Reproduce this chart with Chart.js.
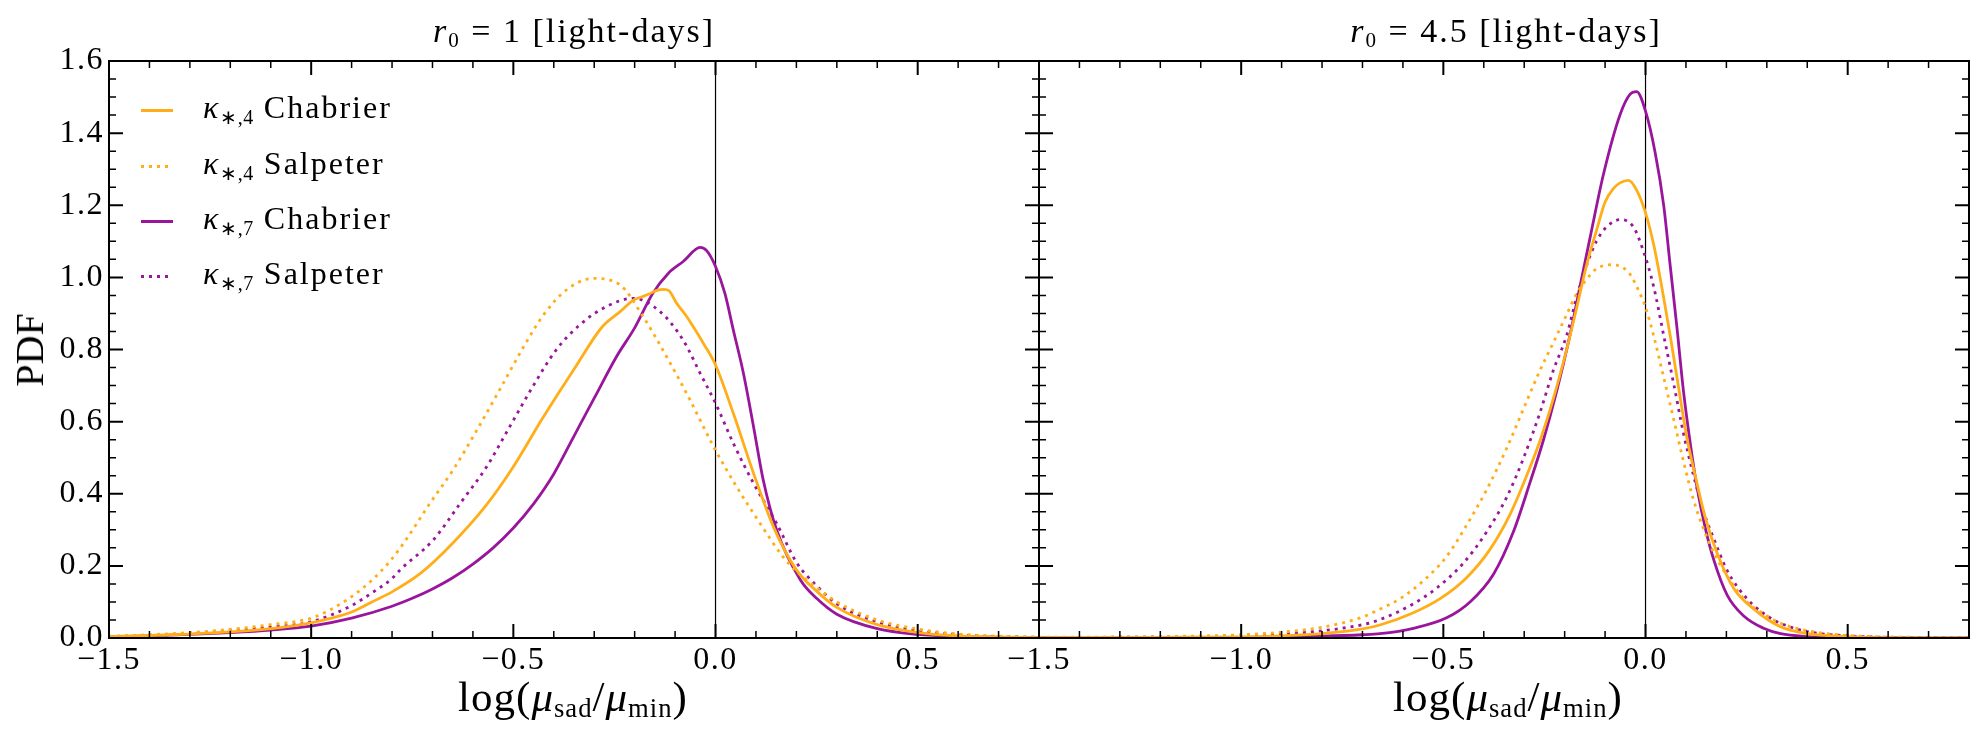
<!DOCTYPE html>
<html>
<head>
<meta charset="utf-8">
<script src="https://cdn.jsdelivr.net/npm/chart.js@4.4.1/dist/chart.umd.min.js"></script>
<style>
  body { margin: 0; background: #fff; }
  #wrap { position: relative; width: 1985px; height: 741px; overflow: hidden;
          font-family: 'Liberation Serif', serif; color: #000; }
  canvas { position: absolute; top: 0; }
  .txt { position: absolute; white-space: nowrap; line-height: 1; }
  .title { font-size: 34px; letter-spacing: 2px; top: 14px; transform: translateX(-50%); }
  .xlab { font-size: 43px; letter-spacing: 1px; top: 675px; transform: translateX(-50%); }
  .txt sub { font-size: 0.62em; vertical-align: -0.22em; line-height: 0; }
  .ylab { font-size: 40px; left: 30px; top: 350px; transform: translate(-50%, -50%) rotate(-90deg); }
  .leg { position: absolute; left: 141px; height: 30px; width: 320px; }
  .leg .sample { position: absolute; left: 0; top: 16px; width: 32px; height: 3px; }
  .leg .lab { position: absolute; left: 62px; top: -2px; font-size: 32px; line-height: 32px; white-space: nowrap; letter-spacing: 2px; }
  .leg .lab sub { font-size: 20px; vertical-align: -6px; line-height: 0; letter-spacing: 0.5px; }
</style>
</head>
<body>
<div id="wrap">
  <canvas id="leftChart" width="1060" height="741" style="left:0"></canvas>
  <canvas id="rightChart" width="985" height="741" style="left:1000px"></canvas>

  <div class="txt title" style="left:574px"><i>r</i><sub>0</sub> = 1 [light-days]</div>
  <div class="txt title" style="left:1506px"><i>r</i><sub>0</sub> = 4.5 [light-days]</div>
  <div class="txt xlab" style="left:573px">log(<i>μ</i><sub>sad</sub>/<i>μ</i><sub>min</sub>)</div>
  <div class="txt xlab" style="left:1508px">log(<i>μ</i><sub>sad</sub>/<i>μ</i><sub>min</sub>)</div>
  <div class="txt ylab">PDF</div>

  <div class="leg" style="top:93px"><div class="sample" id="s0"></div><div class="lab"><i>κ</i><sub>∗,4</sub> Chabrier</div></div>
  <div class="leg" style="top:149px"><div class="sample" id="s1"></div><div class="lab"><i>κ</i><sub>∗,4</sub> Salpeter</div></div>
  <div class="leg" style="top:204px"><div class="sample" id="s2"></div><div class="lab"><i>κ</i><sub>∗,7</sub> Chabrier</div></div>
  <div class="leg" style="top:259px"><div class="sample" id="s3"></div><div class="lab"><i>κ</i><sub>∗,7</sub> Salpeter</div></div>
</div>

<script>
// axis ticks
const xTicks = [-1.5, -1.0, -0.5, 0.0, 0.5];
const yTicks = [0, 0.2, 0.4, 0.6, 0.8, 1.0, 1.2, 1.4, 1.6];

const orange = '#FFAE19';
const purple = '#99169C';

// r0 = 1 light-days
const leftK4ChabX = [-1.5, -1.4, -1.3, -1.2, -1.1, -1.0, -0.95, -0.9, -0.85, -0.8, -0.73, -0.65, -0.57, -0.5, -0.43, -0.35, -0.28, -0.236, -0.203, -0.185, -0.166, -0.145, -0.128, -0.115, -0.096, -0.071, -0.055, -0.03, 0.0, 0.044, 0.094, 0.143, 0.2, 0.25, 0.3, 0.4, 0.5, 0.6, 0.7, 0.8];
const leftK4ChabY = [0.004, 0.007, 0.011, 0.017, 0.026, 0.042, 0.055, 0.072, 0.1, 0.128, 0.179, 0.263, 0.364, 0.475, 0.605, 0.745, 0.863, 0.905, 0.937, 0.945, 0.953, 0.964, 0.967, 0.963, 0.928, 0.891, 0.863, 0.817, 0.757, 0.623, 0.457, 0.309, 0.189, 0.13, 0.085, 0.037, 0.015, 0.006, 0.003, 0.001];

const leftK4SalpX = [-1.5, -1.4, -1.3, -1.2, -1.1, -1.0, -0.95, -0.9, -0.85, -0.8, -0.764, -0.706, -0.649, -0.591, -0.533, -0.476, -0.426, -0.369, -0.303, -0.236, -0.179, -0.121, -0.063, -0.005, 0.052, 0.11, 0.167, 0.2, 0.25, 0.3, 0.4, 0.5, 0.6, 0.7, 0.8];
const leftK4SalpY = [0.005, 0.009, 0.015, 0.024, 0.037, 0.055, 0.08, 0.115, 0.16, 0.22, 0.275, 0.374, 0.466, 0.575, 0.69, 0.805, 0.895, 0.965, 0.997, 0.979, 0.891, 0.78, 0.66, 0.531, 0.42, 0.318, 0.225, 0.185, 0.14, 0.1, 0.05, 0.025, 0.011, 0.005, 0.002];

const leftK7ChabX = [-1.5, -1.4, -1.3, -1.2, -1.1, -1.0, -0.9, -0.8, -0.75, -0.7, -0.65, -0.6, -0.55, -0.5, -0.45, -0.4, -0.35, -0.3, -0.245, -0.2, -0.155, -0.117, -0.08, -0.038, -0.022, 0.0, 0.023, 0.044, 0.069, 0.094, 0.118, 0.151, 0.21, 0.25, 0.3, 0.4, 0.5, 0.6, 0.7, 0.8];
const leftK7ChabY = [0.003, 0.006, 0.01, 0.015, 0.022, 0.033, 0.055, 0.088, 0.11, 0.136, 0.167, 0.205, 0.25, 0.305, 0.372, 0.455, 0.56, 0.665, 0.78, 0.86, 0.956, 1.011, 1.044, 1.083, 1.074, 1.03, 0.956, 0.854, 0.734, 0.586, 0.438, 0.3, 0.161, 0.11, 0.066, 0.026, 0.01, 0.004, 0.002, 0.001];

const leftK7SalpX = [-1.5, -1.4, -1.3, -1.2, -1.1, -1.0, -0.9, -0.85, -0.8, -0.78, -0.698, -0.631, -0.566, -0.509, -0.452, -0.394, -0.336, -0.27, -0.203, -0.137, -0.08, -0.038, 0.0, 0.044, 0.094, 0.151, 0.2, 0.25, 0.3, 0.4, 0.5, 0.6, 0.7, 0.8];
const leftK7SalpY = [0.004, 0.007, 0.012, 0.02, 0.03, 0.045, 0.09, 0.125, 0.165, 0.189, 0.272, 0.374, 0.475, 0.586, 0.697, 0.799, 0.868, 0.919, 0.942, 0.905, 0.826, 0.734, 0.651, 0.54, 0.429, 0.318, 0.21, 0.145, 0.095, 0.045, 0.02, 0.009, 0.004, 0.002];

// r0 = 4.5 light-days
const rightK4ChabX = [-1.5, -1.2, -1.0, -0.9, -0.8, -0.7, -0.657, -0.574, -0.508, -0.442, -0.385, -0.335, -0.294, -0.261, -0.228, -0.195, -0.17, -0.146, -0.121, -0.1, -0.079, -0.063, -0.042, -0.022, 0.0, 0.02, 0.04, 0.061, 0.082, 0.102, 0.123, 0.148, 0.177, 0.218, 0.268, 0.334, 0.4, 0.5, 0.6, 0.8];
const rightK4ChabY = [0.001, 0.002, 0.003, 0.006, 0.012, 0.025, 0.036, 0.07, 0.109, 0.168, 0.245, 0.343, 0.45, 0.547, 0.664, 0.8, 0.917, 1.033, 1.131, 1.209, 1.247, 1.262, 1.269, 1.242, 1.179, 1.092, 0.975, 0.839, 0.693, 0.557, 0.45, 0.333, 0.236, 0.138, 0.08, 0.031, 0.012, 0.004, 0.001, 0.0];

const rightK4SalpX = [-1.5, -1.2, -1.0, -0.9, -0.8, -0.7, -0.657, -0.607, -0.55, -0.492, -0.442, -0.393, -0.343, -0.302, -0.261, -0.228, -0.195, -0.17, -0.146, -0.121, -0.083, -0.042, -0.022, 0.0, 0.02, 0.045, 0.07, 0.094, 0.119, 0.143, 0.169, 0.21, 0.251, 0.301, 0.334, 0.4, 0.5, 0.6, 0.8];
const rightK4SalpY = [0.002, 0.004, 0.009, 0.016, 0.03, 0.058, 0.08, 0.109, 0.158, 0.226, 0.314, 0.411, 0.527, 0.635, 0.742, 0.819, 0.897, 0.956, 0.994, 1.024, 1.035, 1.014, 0.975, 0.917, 0.839, 0.722, 0.605, 0.489, 0.382, 0.304, 0.236, 0.158, 0.1, 0.061, 0.041, 0.02, 0.007, 0.003, 0.001];

const rightK7ChabX = [-1.5, -1.2, -1.0, -0.9, -0.8, -0.7, -0.657, -0.574, -0.492, -0.434, -0.376, -0.327, -0.286, -0.253, -0.22, -0.187, -0.162, -0.137, -0.104, -0.063, -0.038, -0.022, 0.0, 0.024, 0.045, 0.061, 0.078, 0.094, 0.111, 0.127, 0.148, 0.169, 0.202, 0.243, 0.292, 0.334, 0.4, 0.5, 0.8];
const rightK7ChabY = [0.001, 0.001, 0.002, 0.003, 0.005, 0.009, 0.012, 0.027, 0.056, 0.1, 0.177, 0.294, 0.43, 0.547, 0.683, 0.839, 0.975, 1.111, 1.286, 1.451, 1.508, 1.515, 1.461, 1.345, 1.199, 1.033, 0.858, 0.683, 0.537, 0.42, 0.304, 0.216, 0.119, 0.061, 0.027, 0.012, 0.004, 0.001, 0.0];

const rightK7SalpX = [-1.5, -1.2, -1.0, -0.9, -0.8, -0.7, -0.657, -0.574, -0.517, -0.451, -0.393, -0.343, -0.302, -0.261, -0.228, -0.195, -0.17, -0.146, -0.121, -0.096, -0.063, -0.03, -0.005, 0.02, 0.045, 0.07, 0.094, 0.119, 0.143, 0.169, 0.202, 0.251, 0.301, 0.334, 0.4, 0.5, 0.6, 0.8];
const rightK7SalpY = [0.001, 0.003, 0.006, 0.011, 0.02, 0.037, 0.051, 0.095, 0.138, 0.207, 0.294, 0.391, 0.498, 0.625, 0.742, 0.839, 0.946, 1.033, 1.101, 1.14, 1.16, 1.14, 1.072, 0.975, 0.839, 0.703, 0.567, 0.45, 0.352, 0.275, 0.187, 0.109, 0.061, 0.041, 0.018, 0.006, 0.002, 0.0];

const dots = [3, 5];

// legend samples
document.getElementById('s0').style.background = orange;
document.getElementById('s1').style.background = `repeating-linear-gradient(to right, ${orange} 0 3px, transparent 3px 8px)`;
document.getElementById('s2').style.background = purple;
document.getElementById('s3').style.background = `repeating-linear-gradient(to right, ${purple} 0 3px, transparent 3px 8px)`;

function pts(xs, ys) {
    return xs.map((x, i) => ({ x: x, y: ys[i] }));
}

function series(label, xs, ys, color, dashed) {
    return {
        label: label,
        data: pts(xs, ys),
        borderColor: color,
        borderWidth: 2.8,
        borderDash: dashed ? dots : [],
        pointRadius: 0,
        cubicInterpolationMode: 'monotone',
        fill: false
    };
}

function fmt(v) {
    const s = Math.abs(v).toFixed(1);
    return v < -1e-9 ? '\u2212' + s : s;
}

// zero line, frame and inward ticks on every side
const frameTicks = {
    id: 'frameTicks',
    beforeDraw(chart) {
        chart.ctx.letterSpacing = '1.5px';
    },
    beforeDatasetsDraw(chart) {
        const { ctx, chartArea: a, scales: { x } } = chart;
        const px = x.getPixelForValue(0);
        ctx.save();
        ctx.strokeStyle = '#000';
        ctx.lineWidth = 1.2;
        ctx.beginPath();
        ctx.moveTo(px, a.top);
        ctx.lineTo(px, a.bottom);
        ctx.stroke();
        ctx.restore();
    },
    afterDatasetsDraw(chart) {
        const { ctx, chartArea: a, scales: { x, y } } = chart;
        ctx.save();
        ctx.strokeStyle = '#000';

        ctx.lineWidth = 1.5;
        ctx.beginPath();
        for (let i = -15; i <= 8; i++) {
            if (i % 5 === 0) continue;
            const px = x.getPixelForValue(i / 10);
            ctx.moveTo(px, a.bottom); ctx.lineTo(px, a.bottom - 7);
            ctx.moveTo(px, a.top); ctx.lineTo(px, a.top + 7);
        }
        for (let i = 0; i <= 32; i++) {
            if (i % 4 === 0) continue;
            const py = y.getPixelForValue(i / 20);
            ctx.moveTo(a.left, py); ctx.lineTo(a.left + 7, py);
            ctx.moveTo(a.right, py); ctx.lineTo(a.right - 7, py);
        }
        ctx.stroke();

        ctx.lineWidth = 2;
        ctx.beginPath();
        xTicks.forEach(v => {
            const px = x.getPixelForValue(v);
            ctx.moveTo(px, a.bottom); ctx.lineTo(px, a.bottom - 14);
            ctx.moveTo(px, a.top); ctx.lineTo(px, a.top + 14);
        });
        yTicks.forEach(v => {
            const py = y.getPixelForValue(v);
            ctx.moveTo(a.left, py); ctx.lineTo(a.left + 14, py);
            ctx.moveTo(a.right, py); ctx.lineTo(a.right - 14, py);
        });
        ctx.stroke();

        ctx.lineWidth = 2;
        ctx.strokeRect(a.left, a.top, a.right - a.left, a.bottom - a.top);
        ctx.restore();
    }
};

const tickFont = { family: "'Liberation Serif', serif", size: 32 };

function makeChart(id, sets, showY, padding) {
    return new Chart(document.getElementById(id), {
        type: 'line',
        data: { datasets: sets },
        options: {
            responsive: false,
            animation: false,
            layout: { padding: padding, autoPadding: false },
            plugins: { legend: { display: false }, tooltip: { enabled: false } },
            scales: {
                x: {
                    type: 'linear',
                    min: -1.5,
                    max: 0.8,
                    grid: { display: false, drawTicks: false },
                    border: { display: false },
                    afterBuildTicks: s => { s.ticks = xTicks.map(v => ({ value: v })); },
                    afterFit: s => { s.height = 103; },
                    ticks: { font: tickFont, color: '#000', padding: 3, maxRotation: 0, callback: v => fmt(v) }
                },
                y: {
                    type: 'linear',
                    min: 0,
                    max: 1.6,
                    display: showY,
                    grid: { display: false, drawTicks: false },
                    border: { display: false },
                    afterBuildTicks: s => { s.ticks = yTicks.map(v => ({ value: v })); },
                    afterFit: s => { s.width = showY ? 109 : 0; },
                    ticks: { font: tickFont, color: '#000', padding: 5, callback: v => fmt(v) }
                }
            }
        },
        plugins: [frameTicks]
    });
}

makeChart('leftChart', [
    series('κ*,4 Chabrier', leftK4ChabX, leftK4ChabY, orange, false),
    series('κ*,4 Salpeter', leftK4SalpX, leftK4SalpY, orange, true),
    series('κ*,7 Chabrier', leftK7ChabX, leftK7ChabY, purple, false),
    series('κ*,7 Salpeter', leftK7SalpX, leftK7SalpY, purple, true)
], true, { left: 0, right: 21, top: 61, bottom: 0 });

makeChart('rightChart', [
    series('κ*,4 Chabrier', rightK4ChabX, rightK4ChabY, orange, false),
    series('κ*,4 Salpeter', rightK4SalpX, rightK4SalpY, orange, true),
    series('κ*,7 Chabrier', rightK7ChabX, rightK7ChabY, purple, false),
    series('κ*,7 Salpeter', rightK7SalpX, rightK7SalpY, purple, true)
], false, { left: 39, right: 16, top: 61, bottom: 0 });
</script>
</body>
</html>
